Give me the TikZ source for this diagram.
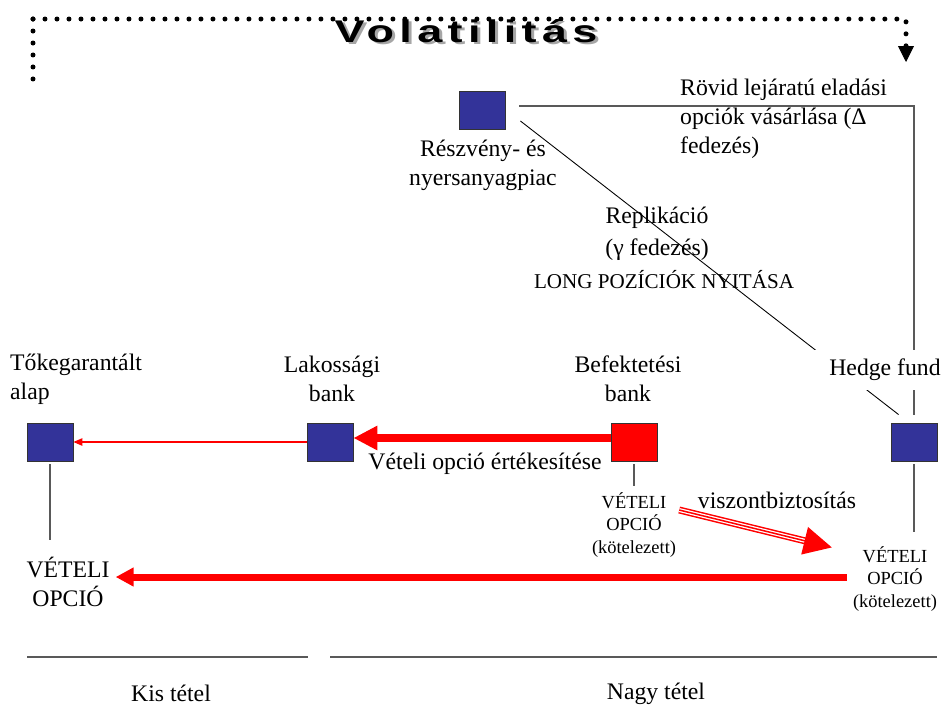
\documentclass[tikz,border=0pt]{standalone}
\usepackage{fontspec}
\usepackage{graphicx}
\setmainfont{Liberation Serif}
\newfontfamily\volfont[LetterSpace=12]{Liberation Sans}
\usetikzlibrary{arrows.meta, calc, positioning}
\definecolor{sqblue}{HTML}{333399}

\begin{document}
\begin{tikzpicture}[
  x=0.02cm, y=-0.02cm,
  sq/.style={
    draw=black!80,
    fill=sqblue,
    line width=0.5pt,
    minimum width=0.92cm,
    minimum height=0.76cm,
    inner sep=0pt
    },
  txt/.style={align=center, font=\fontsize{13.5}{16.5}\selectfont},
  small/.style={align=center, font=\fontsize{10.5}{12.8}\selectfont},
  gline/.style={draw=black!65, line width=0.7pt},
  dots/.style={line width=0.1cm, line cap=round, dash pattern=on 0pt off 0.24cm},
  thinarrow/.style={draw=red, line width=0.6pt, -{Triangle[length=0.18cm,width=0.15cm]}},
  bigarrow/.style={draw=red, line width=0.16cm, -{Triangle[length=0.48cm,width=0.46cm]}},
  longarrow/.style={draw=red, line width=0.14cm, -{Triangle[length=0.36cm,width=0.36cm]}},
  triple/.style={
    draw=red, line width=0.14cm, shorten >=0.5cm,
    postaction={draw=white, line width=0.08cm, shorten >=0.5cm},
    postaction={draw=red, line width=0.03cm, shorten >=0pt, -{Triangle[length=0.56cm,width=0.56cm]}}
    }
]
\useasboundingbox (0,0) rectangle (943,704);

% volatility loop
\coordinate (volCorner) at (33,19);
\coordinate (volStart) at (33,86);
\coordinate (volEnd) at (906,62);
\draw[dots] (volCorner) -- (volStart);
\draw[dots, shorten >=0.32cm] (volCorner) -| (volEnd);
\draw[line width=0.5pt, -{Triangle[length=0.32cm,width=0.32cm]}] ([yshift=0.33cm]volEnd) -- (volEnd);
\node[gray!70, inner sep=0pt] (volshadow) at (469,33) {\resizebox{5.26cm}{0.46cm}{\volfont\bfseries Volatilitás}};
\node[inner sep=0pt] (vol) at (466,31) {\resizebox{5.26cm}{0.46cm}{\volfont\bfseries Volatilitás}};

% squares
\node[sq] (rsz) at (482,110) {};
\node[sq] (toke) at (50,442) {};
\node[sq] (lak) at (330,442) {};
\node[sq, fill=red] (bef) at (634,442) {};
\node[sq] (hedge) at (914,442) {};

% option labels under the squares
\node[small] (bopt) at (634,525) {VÉTELI\\OPCIÓ\\(kötelezett)};
\node[small] (hopt) at (895,579) {VÉTELI\\OPCIÓ\\(kötelezett)};
\node[txt] (lopt) at (68,582) {VÉTELI\\OPCIÓ};

% hedging lines
\draw[gline, shorten >=0.16cm] (rsz.east) ++(14,-4) -| (hedge.north);
\draw[line width=0.5pt] (rsz.east) ++(15,11) -- ([shift={(8,-8)}]hedge.north west);
\draw[gline, shorten <=0.06cm, shorten >=0.22cm] (toke.south) -- (toke.south |- lopt.north);
\draw[gline, shorten <=0.06cm] (bef.south) -- (bopt.north);
\draw[gline, shorten <=0.06cm, shorten >=0.16cm] (hedge.south) -- (hedge.south |- hopt.north);

% option flows
\draw[thinarrow] (lak.west) -- (toke.east);
\draw[bigarrow] ([yshift=0.08cm]bef.west) -- ([yshift=0.08cm]lak.east);
\draw[longarrow] (hopt.west |- 0,577) -- (lopt.east |- 0,577);
\draw[triple] ([shift={(-3,-15)}]bopt.east) -- ([shift={(-15,7)}]hopt.north west);

% labels
\node[txt] (rszlbl) at (483,165) {Részvény- és\\nyersanyagpiac};
\node[txt, align=left, anchor=west] (rovid) at (674,119) {Rövid lejáratú eladási\\opciók vásárlása (Δ\\fedezés)};
\node[txt, font=\fontsize{13.5}{18.2}\selectfont] (repl) at (657,234) {Replikáció\\(γ fedezés)};
\node[font=\fontsize{12}{13}\selectfont] (long) at (664,280) {LONG POZÍCIÓK NYITÁSA};
\node[txt, fill=white, minimum width=2.86cm, minimum height=0.8cm] (hedgelbl) at (885,370) {Hedge fund};
\node[txt, align=left, anchor=west] (tokelbl) at (4,379) {Tőkegarantált\\alap};
\node[txt] (laklbl) at (332,379) {Lakossági\\bank};
\node[txt] (beflbl) at (628,379) {Befektetési\\bank};
\node[txt] (ertek) at (485,464) {Vételi opció értékesítése};
\node[txt] (viszont) at (777,500) {viszontbiztosítás};

% sizes
\draw[gline] (27,657) -- (308,657);
\draw[gline] (330,657) -- (937,657);
\node[txt] (kis) at (171,693) {Kis tétel};
\node[txt] (nagy) at (656,694) {Nagy tétel};

\end{tikzpicture}
\end{document}
